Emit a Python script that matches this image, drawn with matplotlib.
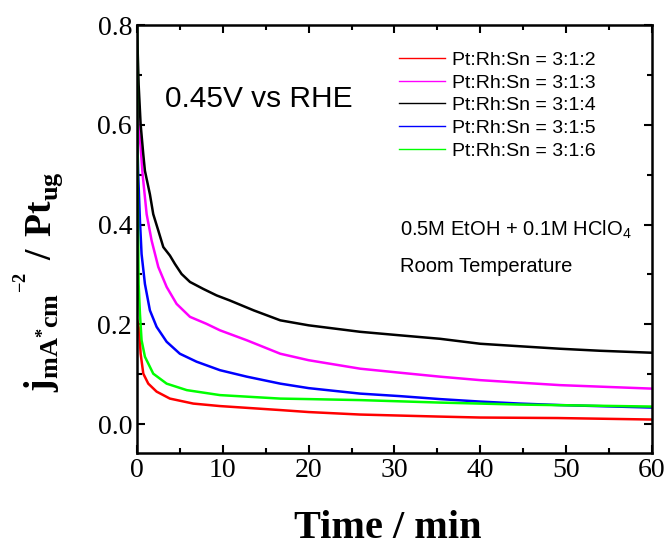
"""
Chronoamperometry curves of Pt:Rh:Sn catalysts at 0.45 V vs RHE.
"""

import matplotlib

matplotlib.use("Agg")
import matplotlib.pyplot as plt
from matplotlib.ticker import MultipleLocator

plt.rcParams["mathtext.fontset"] = "custom"
plt.rcParams["mathtext.rm"] = "Liberation Serif"
plt.rcParams["mathtext.bf"] = "Liberation Serif:bold"
plt.rcParams["mathtext.sf"] = "Liberation Sans"

# time (min) / current density
t_32 = [0.0, 0.25, 0.43, 0.74, 1.32, 2.29, 3.84, 6.56, 9.67, 16.7, 20.0, 26.0, 35.0, 40.0, 49.0, 60.0]
j_32 = [0.21, 0.19, 0.141, 0.101, 0.081, 0.065, 0.051, 0.041, 0.036, 0.028, 0.024, 0.019, 0.015, 0.013, 0.012, 0.009]

t_33 = [0.0, 0.2, 0.43, 0.66, 1.13, 1.71, 2.49, 3.46, 4.62, 6.18, 8.1, 9.67, 12.8, 16.7, 20.0, 26.0,
        30.6, 35.3, 40.0, 44.6, 49.3, 53.9, 60.0]
j_33 = [0.65, 0.60, 0.555, 0.501, 0.421, 0.368, 0.315, 0.275, 0.241, 0.215, 0.201, 0.188, 0.168, 0.141,
        0.128, 0.111, 0.103, 0.095, 0.088, 0.083, 0.078, 0.075, 0.071]

t_34 = [0.0, 0.2, 0.43, 0.74, 0.93, 1.51, 1.9, 2.49, 3.07, 3.84, 4.43, 5.2, 6.18, 7.73, 9.28, 10.8,
        13.6, 16.7, 20.0, 26.0, 30.6, 35.3, 40.0, 44.6, 49.3, 53.9, 60.0]
j_34 = [0.80, 0.68, 0.601, 0.541, 0.508, 0.461, 0.421, 0.388, 0.355, 0.338, 0.321, 0.301, 0.285, 0.271,
        0.258, 0.248, 0.228, 0.208, 0.198, 0.185, 0.178, 0.171, 0.161, 0.156, 0.151, 0.147, 0.143]

t_35 = [0.0, 0.15, 0.35, 0.54, 0.93, 1.51, 2.29, 3.46, 5.0, 6.95, 9.67, 12.8, 16.7, 20.0, 26.0,
        30.6, 35.3, 40.0, 44.6, 49.3, 60.0]
j_35 = [0.60, 0.50, 0.408, 0.341, 0.281, 0.228, 0.195, 0.165, 0.141, 0.125, 0.108, 0.095, 0.081, 0.072,
        0.061, 0.056, 0.050, 0.045, 0.041, 0.038, 0.033]

t_36 = [0.0, 0.1, 0.2, 0.35, 0.54, 0.93, 1.9, 3.46, 5.8, 9.67, 16.7, 20.0, 26.0, 35.3, 44.6, 60.0]
j_36 = [0.80, 0.45, 0.28, 0.221, 0.168, 0.135, 0.101, 0.081, 0.068, 0.058, 0.051, 0.050, 0.048, 0.043,
        0.039, 0.035]

labels = ["Pt:Rh:Sn = 3:1:2", "Pt:Rh:Sn = 3:1:3", "Pt:Rh:Sn = 3:1:4",
          "Pt:Rh:Sn = 3:1:5", "Pt:Rh:Sn = 3:1:6"]
colors = ["#ff0000", "#ff00ff", "#000000", "#0000ff", "#00ff00"]
times = [t_32, t_33, t_34, t_35, t_36]
currents = [j_32, j_33, j_34, j_35, j_36]

fig = plt.figure(figsize=(6.68, 5.49), dpi=100)
ax = fig.add_axes([0.205, 0.175, 0.771, 0.779])

for t, j, color, label in zip(times, currents, colors, labels):
    ax.plot(t, j, color=color, lw=1.8, label=label)

ax.set_xlim(0, 60)
ax.set_ylim(-0.058, 0.8)
ax.xaxis.set_major_locator(MultipleLocator(10))
ax.xaxis.set_minor_locator(MultipleLocator(5))
ax.yaxis.set_major_locator(MultipleLocator(0.2))
ax.yaxis.set_minor_locator(MultipleLocator(0.1))
ax.tick_params(which="both", direction="in", top=True, right=True, width=1.5)
ax.tick_params(which="major", length=6, labelsize=20)
ax.tick_params(which="minor", length=3.3)
ax.tick_params(axis="y", pad=3.5)
ax.tick_params(axis="x", pad=4)
for lbl in ax.get_xticklabels() + ax.get_yticklabels():
    lbl.set_fontfamily("Liberation Serif")
for sp in ax.spines.values():
    sp.set_linewidth(1.8)

ax.set_xlabel("Time / min", fontsize=29, fontweight="bold",
              fontfamily="Liberation Serif")
ax.xaxis.label.set_va("baseline")
ax.xaxis.set_label_coords(0.487, -0.2)

ax.set_ylabel(r"$\mathbf{j}_{\mathbf{mA^{*}cm}}{}^{{}^{\mathbf{-2}}}\mathbf{\ /\ Pt}_{\mathbf{ug}}$",
              fontsize=27)
ax.yaxis.label.set_va("baseline")
ax.yaxis.set_label_coords(-0.165, 0.40)

ax.text(0.054, 0.808, "0.45V vs RHE", transform=ax.transAxes, va="baseline",
        fontsize=21.5, fontfamily="Liberation Sans")
ax.text(0.511, 0.507, r"0.5M EtOH + 0.1M HClO$_\mathsf{4}$", transform=ax.transAxes,
        va="baseline", fontsize=14.5, fontfamily="Liberation Sans")
ax.text(0.511, 0.423, "Room Temperature", transform=ax.transAxes, va="baseline",
        fontsize=14.5, fontfamily="Liberation Sans")

leg = ax.legend(loc="upper left", bbox_to_anchor=(0.509, 0.939), frameon=False,
                borderaxespad=0, borderpad=0,
                prop={"family": "Liberation Sans", "size": 14},
                handlelength=2.37, labelspacing=0.26, handletextpad=0.36)
for line in leg.get_lines():
    line.set_linewidth(1.0)

fig.savefig("out.png", dpi=100)
